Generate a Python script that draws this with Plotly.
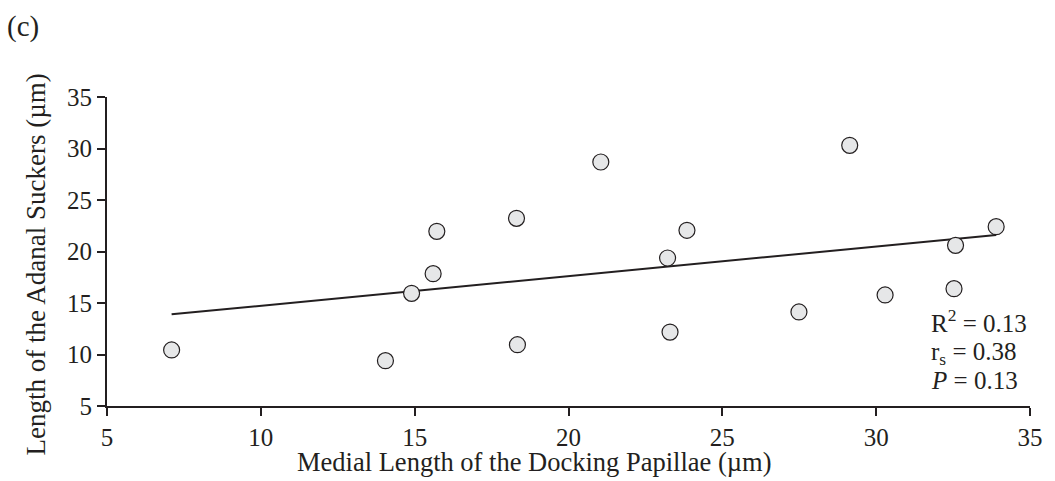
import plotly.graph_objects as go

# Data
docking_papillae = [7.10, 14.05, 14.90, 15.60, 15.72, 18.31, 18.34, 21.05, 23.22, 23.30,
                    23.85, 27.49, 29.14, 30.29, 32.53, 32.58, 33.90]
adanal_suckers = [10.44, 9.40, 15.94, 17.85, 21.96, 23.22, 10.95, 28.69, 19.37, 12.18,
                  22.06, 14.13, 30.31, 15.78, 16.39, 20.60, 22.41]
trend_x = [7.10, 33.90]
trend_y = [13.90, 21.60]
tick_vals = [5, 10, 15, 20, 25, 30, 35]

INK = "#231f20"
FONT = "Liberation Serif"

fig = go.Figure()
fig.add_trace(go.Scatter(x=trend_x, y=trend_y, mode="lines",
                         line=dict(color=INK, width=2), showlegend=False, hoverinfo="skip"))
fig.add_trace(go.Scatter(x=docking_papillae, y=adanal_suckers, mode="markers",
                         marker=dict(size=16, color="#e6e7e8", line=dict(color=INK, width=1.2)),
                         showlegend=False))

axis_common = dict(range=[5, 35], tickvals=tick_vals, ticks="outside", ticklen=8, tickwidth=2,
                   tickcolor=INK, showline=True, linecolor=INK, linewidth=2, showgrid=False,
                   zeroline=False, tickfont=dict(family=FONT, size=25, color=INK))
fig.update_xaxes(**axis_common)
fig.update_yaxes(**axis_common)

fig.update_layout(
    width=1055, height=481,
    margin=dict(l=107, r=21, t=97, b=75),
    plot_bgcolor="white", paper_bgcolor="white",
    font=dict(family=FONT, color=INK),
)

fig.add_annotation(text="(c)", xref="paper", yref="paper", x=0, y=1, xanchor="left", yanchor="middle",
                   xshift=-102, yshift=71, showarrow=False, font=dict(family=FONT, size=29, color=INK))
fig.add_annotation(text="Medial Length of the Docking Papillae (µm)", xref="x", yref="paper",
                   x=18.87, y=0, yshift=-56, yanchor="middle", showarrow=False,
                   font=dict(family=FONT, size=26.5, color=INK))
fig.add_annotation(text="Length of the Adanal Suckers (µm)", xref="paper", yref="y",
                   x=0, y=18.75, xshift=-88, textangle=-90, showarrow=False,
                   font=dict(family=FONT, size=27, color=INK))
fig.add_annotation(text="R<sup>2</sup> = 0.13", xref="x", yref="y", x=31.72, y=13.3,
                   xanchor="left", showarrow=False, font=dict(family=FONT, size=25, color=INK))
fig.add_annotation(text="r<sub>s</sub> = 0.38", xref="x", yref="y", x=31.72, y=10.05,
                   xanchor="left", showarrow=False, font=dict(family=FONT, size=25, color=INK))
fig.add_annotation(text="<i>P</i> = 0.13", xref="x", yref="y", x=31.72, y=7.5,
                   xanchor="left", showarrow=False, font=dict(family=FONT, size=25, color=INK))

fig.write_html("out.html")
